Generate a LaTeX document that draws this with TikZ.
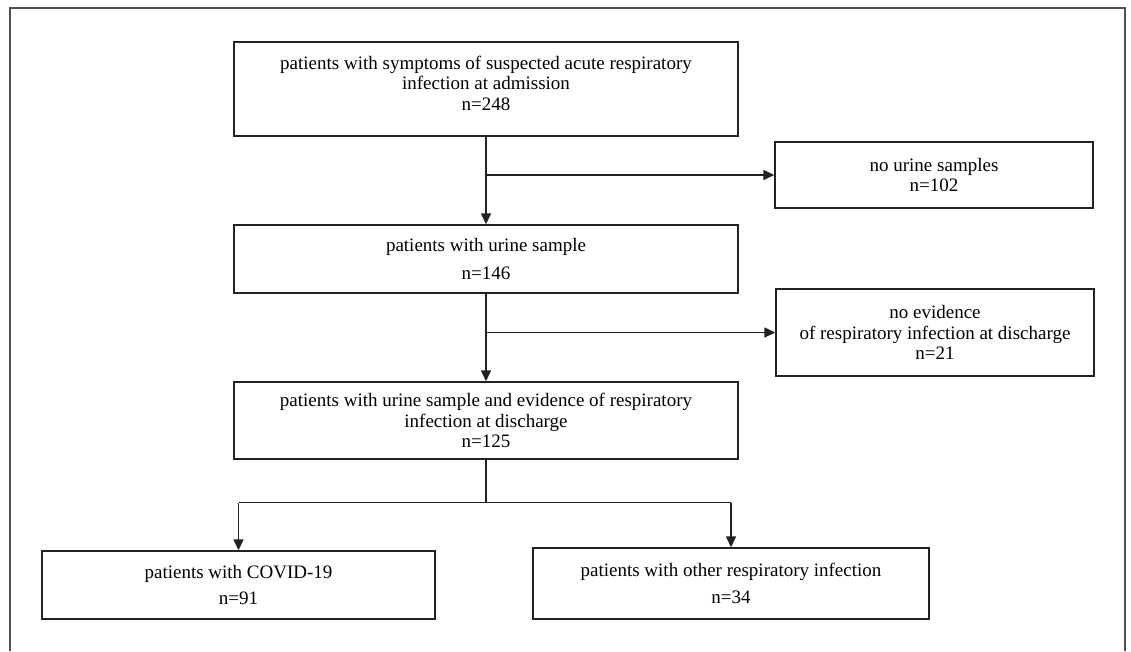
\documentclass[tikz,border=0pt]{standalone}
\usepackage{fontspec}
\setmainfont{Liberation Serif}
\usetikzlibrary{arrows.meta,positioning,calc}
\definecolor{ink}{HTML}{222222}
\definecolor{framegrey}{HTML}{505050}

\begin{document}
\begin{tikzpicture}[
  x=1pt, y=-1pt,
  box/.style={draw=ink, line width=1.4pt, inner sep=0pt, align=center, font=\fontsize{19}{20.5}\selectfont},
  side/.style={box, minimum width=318pt},
  arr/.style={-{Triangle[length=11pt,width=10pt]}, ink, line width=1.4pt},
  lin/.style={ink, line width=1.4pt}
]
\useasboundingbox (0,0) rectangle (1131,651);
\draw[framegrey, line width=2pt] (10,651) -- (10,8) -- (1125,8) -- (1125,651);

\node[box, minimum width=504pt, minimum height=94pt, text depth=12pt] (adm) at (486,89) {patients with symptoms of suspected acute respiratory\\infection at admission\\n=248};
\node[box, minimum width=504pt, minimum height=68pt] (urine) at (486,259) {patients with urine sample\\[7pt]n=146};
\node[box, minimum width=504pt, minimum height=77pt] (evid) at (486,420.5) {patients with urine sample and evidence of respiratory\\infection at discharge\\n=125};
\node[box, minimum width=393pt, minimum height=68pt] (covid) at (238.5,585) {patients with COVID-19\\[5pt]n=91};
\node[box, minimum width=396pt, minimum height=71pt] (other) at (731,583.5) {patients with other respiratory infection\\[6pt]n=34};

\node[side, minimum height=66pt] (nourine) at (934,175) {no urine samples\\n=102};
\node[side, minimum height=87pt] (noevid) at (935,332.5) {no evidence\\of respiratory infection at discharge\\n=21};

\coordinate (j1) at (adm.south |- nourine.west);
\coordinate (j2) at (urine.south |- noevid.west);
\coordinate (split) at ($(evid.south)+(0,43)$);

\draw[arr] (adm.south) -- (urine.north);
\draw[arr] (j1) -- (nourine.west);
\draw[arr] (urine.south) -- (evid.north);
\draw[arr] (j2) -- (noevid.west);
\draw[lin] (evid.south) -- (split);
\draw[lin] (covid.north |- split) -- (other.north |- split);
\draw[arr] (covid.north |- split) -- (covid.north);
\draw[arr] (other.north |- split) -- (other.north);
\end{tikzpicture}
\end{document}
